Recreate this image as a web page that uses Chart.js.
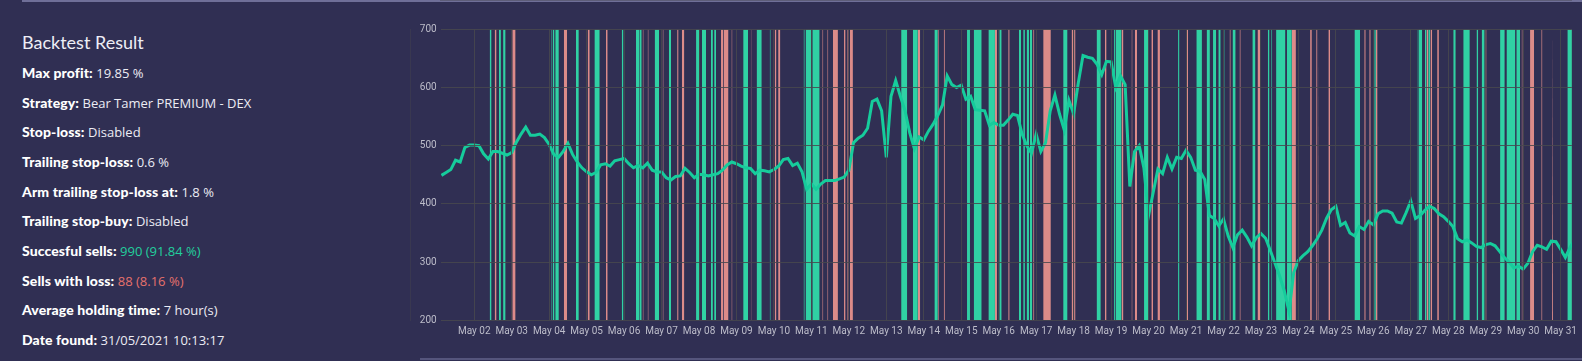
<!DOCTYPE html>
<html>
<head>
<meta charset="utf-8">
<script src="https://cdn.jsdelivr.net/npm/chart.js@4.4.1/dist/chart.umd.min.js"></script>
<style>
  html, body { margin: 0; padding: 0; }
  body {
    width: 1582px; height: 361px; overflow: hidden; position: relative;
    background: #302f53; font-family: "Open Sans", sans-serif; color: #ececf4;
  }
  .topline { position: absolute; left: 22px; right: 0; top: 0; height: 2px; background: #6f6f98; }
  .bottomline { position: absolute; left: 420px; right: 0; top: 358px; height: 2px; background: #55557c; }
  .panel { position: absolute; left: 22px; top: 0; width: 370px; height: 361px; }
  .panel h3 {
    position: absolute; top: 31px; left: 0; margin: 0; white-space: nowrap;
    font-family: "Lato", sans-serif; font-weight: 400; font-size: 18px; color: #eeeef6;
  }
  .row {
    position: absolute; left: 0; height: 30px; line-height: 30px;
    font-size: 13px; white-space: nowrap;
  }
  .row b { font-family: "Lato", sans-serif; font-weight: 900; color: #ffffff; font-size: 14px; letter-spacing: 0.1px; }
  .ok { color: #22cf9d; }
  .bad { color: #e5716c; }
  #wrap { position: absolute; left: 410px; top: 0; width: 1172px; height: 361px; }
</style>
</head>
<body>
<div class="topline"></div>
<div class="bottomline"></div>
<div class="panel">
  <h3>Backtest Result</h3>
  <div class="row" style="top:58px"><b>Max profit:</b> 19.85 %</div>
  <div class="row" style="top:87.7px"><b>Strategy:</b> Bear Tamer PREMIUM - DEX</div>
  <div class="row" style="top:117.3px"><b>Stop-loss:</b> Disabled</div>
  <div class="row" style="top:147px"><b>Trailing stop-loss:</b> 0.6 %</div>
  <div class="row" style="top:176.7px"><b>Arm trailing stop-loss at:</b> 1.8 %</div>
  <div class="row" style="top:206.3px"><b>Trailing stop-buy:</b> Disabled</div>
  <div class="row" style="top:236px"><b>Succesful sells:</b> <span class="ok">990 (91.84 %)</span></div>
  <div class="row" style="top:265.7px"><b>Sells with loss:</b> <span class="bad">88 (8.16 %)</span></div>
  <div class="row" style="top:295.3px"><b>Average holding time:</b> 7 hour(s)</div>
  <div class="row" style="top:325px"><b>Date found:</b> 31/05/2021 10:13:17</div>
</div>
<div id="wrap"><canvas id="grafico"></canvas></div>

<script>
// hours counted from May 01 00:00, price sampled every 3 hours
const precoInicio = 3;
const precoPasso = 3;
const precos = [
  449,454,459,475,472,497,501,501,500,486,
  477,490,490,487,484,488,506,520,532,518,
  518,520,514,502,485,480,490,504,485,472,
  462,455,450,454,467,469,465,474,476,478,
  469,462,466,462,470,458,455,455,445,441,
  447,448,461,454,445,451,450,448,450,452,
  458,
  467,472,469,465,462,461,452,458,457,455,
  459,465,476,478,466,470,455,425,434,425,
  434,440,440,440,443,446,458,505,513,518,
  530,576,580,560,480,585,612,585,560,522,
  495,515,510,525,537,552,570,620,605,600,
  604,580,585,562,561,560,535,540,535,535,
  544,554,552,520,500,487,520,490,505,560,
  587,554,527,578,555,608,655,652,650,640,
  622,645,644,600,620,605,430,490,500,462,
  380,420,460,452,480,460,480,478,492,480,
  458,456,442,380,375,362,374,345,325,347,
  355,343,328,342,349,341,320,298,276,250,
  215,
  282,303,311,318,328,340,355,375,390,396,
  363,368,350,345,361,356,370,364,383,388,
  388,384,369,367,385,405,375,380,389,396,
  392,383,378,370,361,340,335,338,333,327,
  325,330,332,328,318,308,300,290,293,288,
  298,318,329,326,322,336,335,322,308,325,
  338
];

// trades [open hour, close hour]
const vendasLucro = [
  [33.9,35.1],[39.8,41.1],[42.5,44.1],[73.4,74.0],[74.3,75.4],[75.9,78.2],[89.2,91.0],
  [101.0,104.4],[118.5,119.6],[127.6,130.0],[130.2,131.3],[139.6,142.4],[148.7,150.1],
  [166.1,168.2],[169.9,172.5],[175.6,176.9],[177.7,178.9],[196.3,199.4],[204.9,208.2],
  [213.3,213.9],[235.0,235.7],[236.3,240.0],[240.6,245.3],[297.5,301.4],[305.0,308.2],
  [318.8,321.0],[339.7,341.6],[344.0,349.1],[353.4,357.6],[360.4,361.9],[373.0,374.3],
  [375.7,376.8],[377.9,379.4],[380.0,381.5],[401.3,404.1],[422.7,425.4],[433.9,434.8],
  [435.0,438.7],[453.1,456.1],[474.9,475.8],[486.6,490.2],[493.2,495.3],[497.3,499.3],
  [500.7,502.2],[504.1,504.7],[509.8,511.8],[522.5,524.5],[532.4,533.5],[534.6,535.2],
  [537.7,543.7],[544.6,547.8],[587.9,591.5],[600.6,601.6],[628.3,629.0],[629.2,631.3],
  [633.1,634.1],[635.2,636.3],[651.2,652.8],[657.6,661.8],[666.1,667.2],[669.4,671.3],
  [681.2,684.2],[685.3,691.0],[691.6,694.0],[724.3,727.3]
];
const vendasPerda = [
  [37.1,38.3],[48.4,50.5],[81.4,83.5],[96.7,98.0],[108.4,109.5],[131.9,132.5],[135.1,135.7],
  [144.7,145.3],[154.0,154.9],[157.0,158.6],[182.1,183.7],[184.0,186.9],[188.8,189.4],
  [201.2,201.6],[216.5,217.6],[218.7,220.1],[247.0,247.6],[250.2,250.8],[253.8,257.0],
  [260.9,261.9],[263.0,264.1],[264.7,266.6],[308.2,309.7],[321.0,321.6],[324.8,325.5],
  [357.6,358.9],[366.1,367.0],[382.1,382.8],[388.5,393.4],[406.7,407.7],[408.3,409.2],
  [428.0,429.1],[438.7,439.9],[445.1,445.7],[447.2,448.6],[457.8,458.9],[461.7,463.3],
  [480.4,481.3],[507.9,508.6],[514.3,515.0],[525.8,527.5],[547.8,550.4],[559.5,560.6],
  [563.4,564.2],[564.6,565.0],[571.2,572.3],[594.2,595.1],[597.4,598.3],[601.6,602.7],
  [634.1,635.2],[636.6,637.7],[640.9,642.0],[671.4,672.5],[695.0,695.6],[700.4,703.0],
  [707.6,708.3],[714.5,715.1]
];

const diasLabels = [
  "May 02","May 03","May 04","May 05","May 06","May 07","May 08","May 09","May 10","May 11",
  "May 12","May 13","May 14","May 15","May 16","May 17","May 18","May 19","May 20","May 21",
  "May 22","May 23","May 24","May 25","May 26","May 27","May 28","May 29","May 30","May 31"
];
const yTicks = [200, 700, 100]; // min, max, step

function faixas(trades) {
  const pts = [];
  trades.forEach(t => {
    pts.push({ x: t[0], y: yTicks[1] });
    pts.push({ x: t[1], y: yTicks[1] });
    pts.push({ x: t[1], y: null });
  });
  return pts;
}

const pontosPreco = precos.map((v, i) => ({ x: precoInicio + i * precoPasso, y: v }));

const ctx = document.getElementById("grafico").getContext("2d");
const corGrade = "rgba(72,72,78,0.85)";
const corTexto = "#bdbdca";

const grafico = new Chart(ctx, {
  type: "line",
  data: {
    datasets: [
      {
        data: pontosPreco,
        borderColor: "#16cc9c",
        borderWidth: 3,
        pointRadius: 0,
        tension: 0,
        fill: false,
        order: 0
      },
      {
        data: faixas(vendasLucro),
        borderWidth: 0,
        pointRadius: 0,
        backgroundColor: "rgba(48,222,170,0.93)",
        fill: "start",
        order: 1
      },
      {
        data: faixas(vendasPerda),
        borderWidth: 0,
        pointRadius: 0,
        backgroundColor: "rgba(236,148,142,0.92)",
        fill: "start",
        order: 2
      }
    ]
  },
  options: {
    responsive: true,
    maintainAspectRatio: false,
    animation: false,
    layout: { padding: { top: 29.3, right: 8, left: 0, bottom: 0 } },
    plugins: { legend: { display: false }, tooltip: { enabled: false } },
    scales: {
      x: {
        type: "linear",
        min: 2.52,
        max: 727.2,
        afterFit: s => { s.height = 40.7; },
        grid: { color: corGrade, drawTicks: false, z: 1 },
        border: { color: corGrade },
        ticks: {
          stepSize: 24,
          includeBounds: false,
          autoSkip: false,
          maxRotation: 0,
          padding: 5,
          color: corTexto,
          font: { family: "Roboto", size: 10 },
          callback: v => diasLabels[v / 24 - 1] || ""
        }
      },
      y: {
        min: yTicks[0],
        max: yTicks[1],
        afterFit: s => { s.width = 30.7; },
        grid: { color: corGrade, drawTicks: false, z: 1 },
        border: { color: corGrade },
        ticks: {
          stepSize: yTicks[2],
          padding: 4,
          color: corTexto,
          font: { family: "Roboto", size: 10 }
        }
      },
      y2: {
        position: "right",
        grid: { drawOnChartArea: false, drawTicks: false },
        border: { color: corGrade },
        ticks: { display: false }
      }
    }
  }
});
</script>
</body>
</html>
